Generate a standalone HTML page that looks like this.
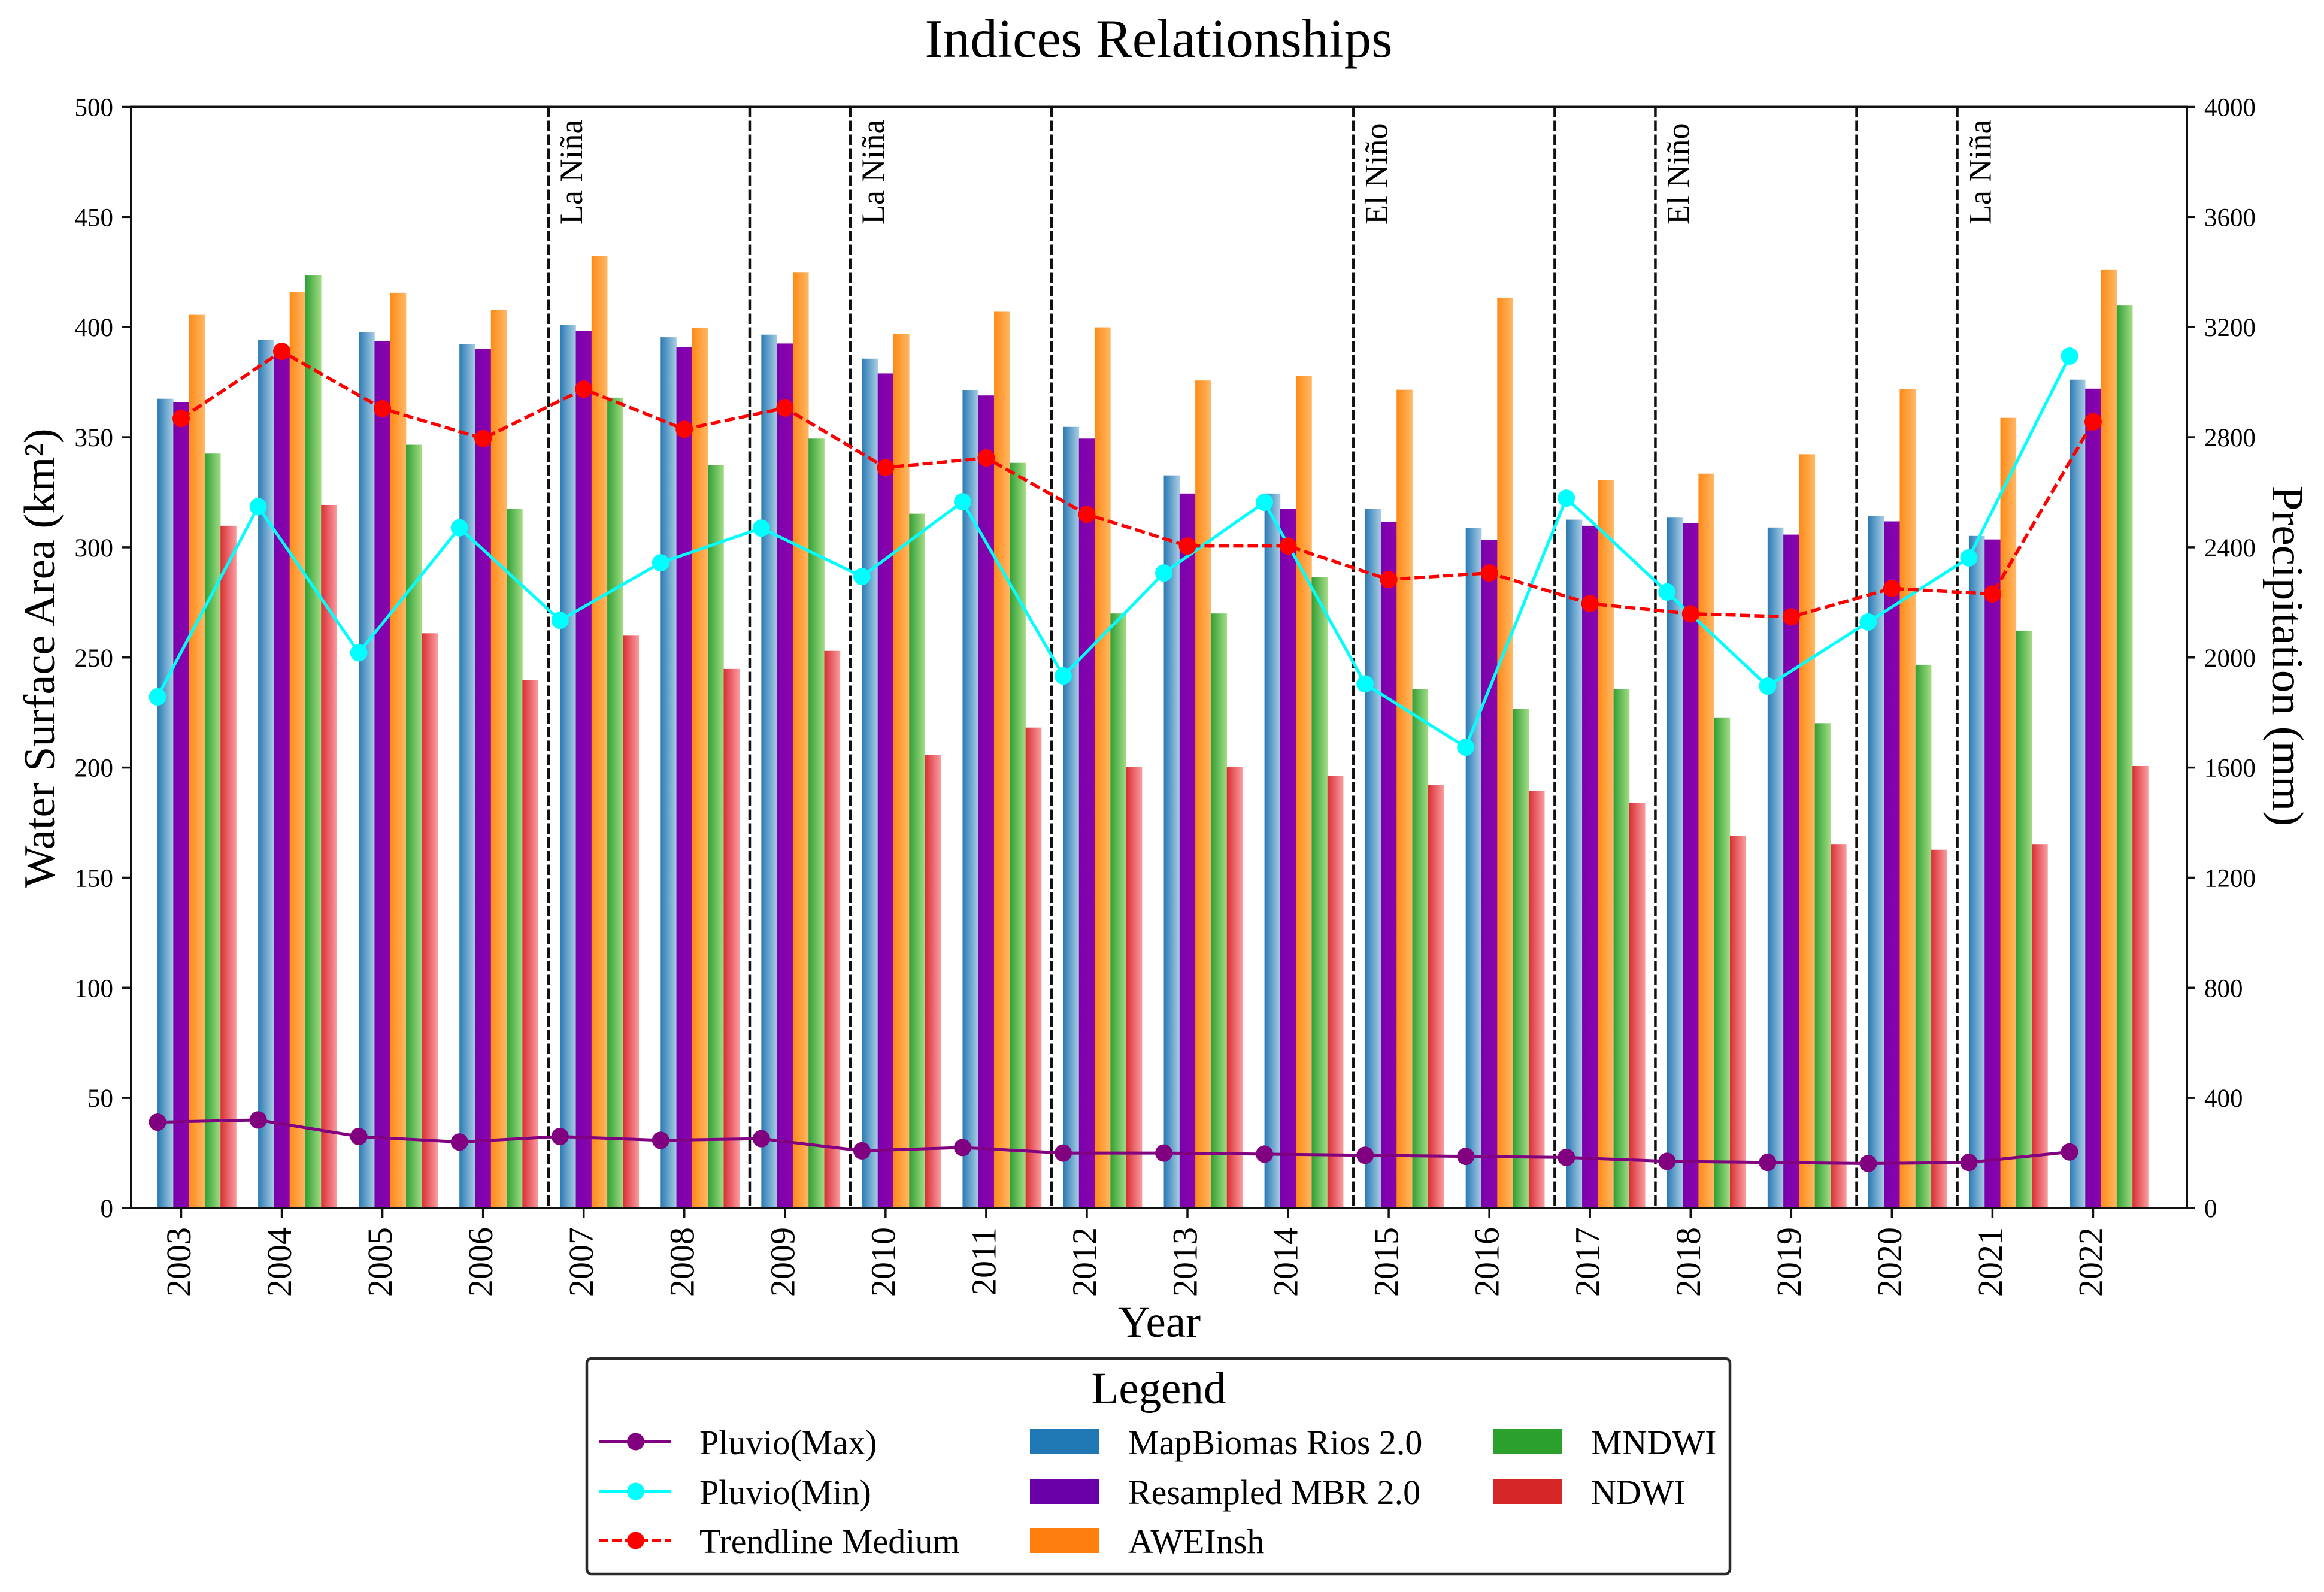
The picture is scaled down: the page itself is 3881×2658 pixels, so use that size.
<!DOCTYPE html>
<html>
<head>
<meta charset="utf-8">
<title>Indices Relationships</title>
<style>
html,body{margin:0;padding:0;background:#fff;width:3881px;height:2658px;overflow:hidden}
svg{display:block}
text{font-family:"Liberation Serif",serif;fill:#000}
</style>
</head>
<body>
<svg id="chart" xmlns="http://www.w3.org/2000/svg" width="3881" height="2658" viewBox="0 0 3881 2658">
  <defs>
    <linearGradient id="g-blue" x1="0" x2="1" y1="0" y2="0"><stop offset="0" stop-color="#2a7ab5"/><stop offset="1" stop-color="#a9cde3"/></linearGradient>
    <linearGradient id="g-purple" x1="0" x2="1" y1="0" y2="0"><stop offset="0" stop-color="#7a00ab"/><stop offset="1" stop-color="#8a05ad"/></linearGradient>
    <linearGradient id="g-orange" x1="0" x2="1" y1="0" y2="0"><stop offset="0" stop-color="#ff8a16"/><stop offset="1" stop-color="#ffb866"/></linearGradient>
    <linearGradient id="g-green" x1="0" x2="1" y1="0" y2="0"><stop offset="0" stop-color="#30a035"/><stop offset="1" stop-color="#a5dc85"/></linearGradient>
    <linearGradient id="g-red" x1="0" x2="1" y1="0" y2="0"><stop offset="0" stop-color="#d92f35"/><stop offset="1" stop-color="#fa9da0"/></linearGradient>
  </defs>
  <rect x="0" y="0" width="3881" height="2658" fill="#fff"/>
  <g id="bars"></g>
  <g id="vlines"></g>
  <g id="series"></g>
  <g id="axes"></g>

  <text x="1935" y="95" font-size="91" text-anchor="middle">Indices Relationships</text>
  <text x="1936" y="2232" font-size="75" text-anchor="middle">Year</text>
  <text transform="translate(91,1099) rotate(-90)" font-size="74.5" text-anchor="middle">Water Surface Area (km²)</text>
  <text transform="translate(3795,1095) rotate(90)" font-size="75" text-anchor="middle">Precipitation (mm)</text>

  <g>
    <rect x="980" y="2268" width="1909" height="360" rx="8" ry="8" fill="#fff" stroke="#2a2a2a" stroke-width="4.5"/>
    <text x="1935" y="2343" font-size="75" text-anchor="middle">Legend</text>

    <g>
      <line x1="1000" x2="1121" y1="2407" y2="2407" stroke="#800080" stroke-width="4"/>
      <circle cx="1061.5" cy="2407" r="14.5" fill="#800080"/>
      <text x="1168" y="2428" font-size="58">Pluvio(Max)</text>
    </g>
    <g>
      <line x1="1000" x2="1121" y1="2490" y2="2490" stroke="#00ffff" stroke-width="4"/>
      <circle cx="1061.5" cy="2490" r="14.5" fill="#00ffff"/>
      <text x="1168" y="2511" font-size="58">Pluvio(Min)</text>
    </g>
    <g>
      <line x1="1000" x2="1121" y1="2572" y2="2572" stroke="#ff0000" stroke-width="4.5" stroke-dasharray="16 6"/>
      <circle cx="1061.5" cy="2572" r="14.5" fill="#ff0000"/>
      <text x="1168" y="2593" font-size="58">Trendline Medium</text>
    </g>
    <g>
      <rect x="1720" y="2386" width="115" height="42" fill="#1f77b4"/>
      <text x="1884" y="2428" font-size="58">MapBiomas Rios 2.0</text>
    </g>
    <g>
      <rect x="1720" y="2469" width="115" height="42" fill="#6a00a8"/>
      <text x="1884" y="2511" font-size="58">Resampled MBR 2.0</text>
    </g>
    <g>
      <rect x="1720" y="2551" width="115" height="42" fill="#ff7f0e"/>
      <text x="1884" y="2593" font-size="58">AWEInsh</text>
    </g>
    <g>
      <rect x="2494" y="2386" width="115" height="42" fill="#2ca02c"/>
      <text x="2657" y="2428" font-size="58">MNDWI</text>
    </g>
    <g>
      <rect x="2494" y="2469" width="115" height="42" fill="#d62728"/>
      <text x="2657" y="2511" font-size="58">NDWI</text>
    </g>
  </g>
</svg>
<script>
// Categories and tick labels
const years = [2003,2004,2005,2006,2007,2008,2009,2010,2011,2012,2013,2014,2015,2016,2017,2018,2019,2020,2021,2022];
const leftTicks = [0,50,100,150,200,250,300,350,400,450,500];
const rightTicks = [0,400,800,1200,1600,2000,2400,2800,3200,3600,4000];

// Bar series: water surface area (km2)
const mapBiomas = [367.5,394.3,397.6,392.3,401,395.4,396.6,385.7,371.5,354.7,332.7,324.5,317.5,308.8,312.6,313.5,309,314.3,305.2,376.2];
const resampledMbr = [366,389,393.8,390,398.2,391,392.6,379,369,349.4,324.5,317.5,311.5,303.5,309.8,310.9,305.8,311.8,303.6,372.1];
const aweinsh = [405.6,416,415.6,407.8,432.3,399.8,425,397,407,399.9,375.8,378,371.6,413.4,330.5,333.5,342.3,372,358.8,426.2];
const mndwi = [342.6,423.7,346.6,317.5,368,337.3,349.4,315.3,338.4,270,270,286.5,235.6,226.7,235.6,222.8,220.2,246.7,262.2,409.8];
const ndwi = [309.8,319.3,261,239.6,259.9,244.8,253,205.6,218.2,200.3,200.3,196.3,192,189.3,184,169,165.3,162.7,165.3,200.7];

// Line series: precipitation (mm)
const pluvioMax = [312,320,260,240,260,246,252,208,220,200,200,196,192,188,184,170,166,162,166,204];
const pluvioMin = [1857,2548,2017,2471,2135,2344,2470,2294,2566,1933,2307,2564,1904,1674,2579,2238,1896,2129,2362,3095];
const trendlineMedium = [2868,3112,2904,2795,2975,2829,2906,2690,2725,2520,2405,2405,2283,2307,2196,2159,2148,2251,2231,2856];

// ENSO event boundaries (in year units) and labels
const eventBoundaries = [2006.65,2008.65,2009.65,2011.65,2014.65,2016.65,2017.65,2019.65,2020.65];
const eventLabelYears = [2006.65,2009.65,2014.65,2017.65,2020.65];
const eventLabels = ["La Niña","La Niña","El Niño","El Niño","La Niña"];

// Plot frame
const plot = {left:219,right:3652,top:178.5,bottom:2017};
const firstYearPx = 302.5, yearStepPx = 168.05;
const barYearWidth = 0.1565;

function xScale(yearValue){ return firstYearPx + (yearValue - years[0]) * yearStepPx; }
function yLeft(v){ return plot.bottom - (v / 500) * (plot.bottom - plot.top); }
function yRight(v){ return plot.bottom - (v / 4000) * (plot.bottom - plot.top); }

const NS = "http://www.w3.org/2000/svg";
function mk(tag, attrs, parent){
  const el = document.createElementNS(NS, tag);
  for (const k in attrs) el.setAttribute(k, attrs[k]);
  parent.appendChild(el);
  return el;
}
const barsG = document.getElementById("bars");
const vlinesG = document.getElementById("vlines");
const seriesG = document.getElementById("series");
const axesG = document.getElementById("axes");

// Bars
const barSeries = [
  {key:"mapbiomas", vals:mapBiomas, fill:"url(#g-blue)"},
  {key:"resampled-mbr", vals:resampledMbr, fill:"url(#g-purple)"},
  {key:"aweinsh", vals:aweinsh, fill:"url(#g-orange)"},
  {key:"mndwi", vals:mndwi, fill:"url(#g-green)"},
  {key:"ndwi", vals:ndwi, fill:"url(#g-red)"}
];
barSeries.forEach(function(s, si){
  s.vals.forEach(function(v, i){
    const x0 = xScale(years[i] + (si - 1.5) * barYearWidth);
    const x1 = xScale(years[i] + (si - 0.5) * barYearWidth);
    const r = mk("rect", {x:x0, y:yLeft(v), width:x1 - x0 + 0.3, height:yLeft(0) - yLeft(v), fill:s.fill}, barsG);
    
    
  });
});

// Event lines and labels
eventBoundaries.forEach(function(b){
  const l = mk("line", {x1:xScale(b), x2:xScale(b), y1:plot.top, y2:plot.bottom, stroke:"#111", "stroke-width":4.5, "stroke-dasharray":"17.5 5.5"}, vlinesG);
  
  
});
eventLabels.forEach(function(t, i){
  const tx = mk("text", {transform:"translate(" + (xScale(eventLabelYears[i]) + 56) + ",375) rotate(-90)", "font-size":54}, vlinesG);
  tx.textContent = t;
  
  
});

// Lines
const lineSeries = [
  {key:"pluvio-max", vals:pluvioMax, color:"#800080", off:-1.5*barYearWidth, dash:null, w:5},
  {key:"pluvio-min", vals:pluvioMin, color:"#00ffff", off:-1.5*barYearWidth, dash:null, w:5},
  {key:"trendline-medium", vals:trendlineMedium, color:"#ff0000", off:0, dash:"17 7", w:5.5}
];
lineSeries.forEach(function(s){
  const pts = s.vals.map(function(v, i){ return xScale(years[i] + s.off) + "," + yRight(v); }).join(" ");
  const attrs = {points:pts, fill:"none", stroke:s.color, "stroke-width":s.w};
  if (s.dash) attrs["stroke-dasharray"] = s.dash;
  const pl = mk("polyline", attrs, seriesG);
  
  
  s.vals.forEach(function(v, i){
    const c = mk("circle", {cx:xScale(years[i] + s.off), cy:yRight(v), r:14.5, fill:s.color}, seriesG);
    
    
  });
});

// Axes
const frame = mk("rect", {x:plot.left, y:plot.top, width:plot.right - plot.left, height:plot.bottom - plot.top, fill:"none", stroke:"#111", "stroke-width":4}, axesG);



years.forEach(function(y){
  const px = xScale(y);
  const t = mk("line", {x1:px, x2:px, y1:plot.bottom, y2:plot.bottom + 16, stroke:"#111", "stroke-width":3.5}, axesG);
  
  
  const lb = mk("text", {transform:"translate(" + (px + 15.5) + ",2049) rotate(-90)", "font-size":58, "text-anchor":"end"}, axesG);
  lb.textContent = String(y);
  
  
});
leftTicks.forEach(function(v){
  const py = yLeft(v);
  const t = mk("line", {x1:plot.left - 16, x2:plot.left, y1:py, y2:py, stroke:"#111", "stroke-width":3.5}, axesG);
  
  
  const lb = mk("text", {x:189, y:py + 15, "font-size":43, "text-anchor":"end"}, axesG);
  lb.textContent = String(v);
  
  
});
rightTicks.forEach(function(v){
  const py = yRight(v);
  const t = mk("line", {x1:plot.right, x2:plot.right + 14, y1:py, y2:py, stroke:"#111", "stroke-width":3.5}, axesG);
  
  
  const lb = mk("text", {x:3681, y:py + 15, "font-size":43}, axesG);
  lb.textContent = String(v);
  
  
});
</script>
</body>
</html>
